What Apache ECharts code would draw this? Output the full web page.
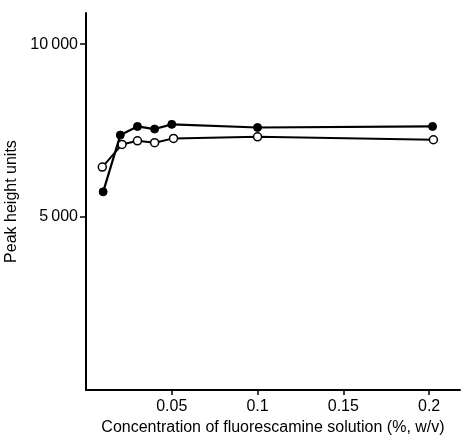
<!DOCTYPE html>
<html>
<head>
<meta charset="utf-8">
<script src="https://cdn.jsdelivr.net/npm/echarts@6/dist/echarts.min.js"></script>
<style>html,body{margin:0;padding:0;background:#fff}#c{width:462px;height:435px}</style>
</head>
<body>
<div id="c"></div>
<script>
var concFilled = [0.01, 0.02, 0.03, 0.04, 0.05, 0.1, 0.202];
var peakFilled = [5730, 7370, 7620, 7545, 7680, 7590, 7620];
var concOpen = [0.0095, 0.021, 0.03, 0.04, 0.051, 0.1, 0.2025];
var peakOpen = [6445, 7100, 7205, 7150, 7275, 7320, 7235];
var xTicks = [0.05, 0.1, 0.15, 0.2];
var yTicks = [5000, 10000];
var yTickLabels = ['5\u2009000', '10\u2009000'];

function pairs(xs, ys){ return xs.map(function(x,i){return [x, ys[i]];}); }
var font = 'Liberation Sans, Arial, sans-serif';
var fs = 16;
var chart = echarts.init(document.getElementById('c'));
chart.setOption({
  animation: false,
  backgroundColor: '#fff',
  grid: {left: 86, top: 13, right: 2, bottom: 45, containLabel: false, outerBoundsMode: 'none'},
  xAxis: {
    type: 'value', min: 0, max: 0.218,
    name: 'Concentration of fluorescamine solution (%, w/v)',
    nameLocation: 'middle', nameGap: 28,
    nameTextStyle: {color: '#000', fontFamily: font, fontSize: fs},
    axisLine: {lineStyle: {color: '#000', width: 2}},
    axisTick: {show: true, length: 5, customValues: xTicks, lineStyle: {color: '#000', width: 1.5}},
    axisLabel: {color: '#000', fontFamily: font, fontSize: fs, margin: 9, customValues: xTicks,
      formatter: function(v){ return String(+v.toFixed(2)); }},
    splitLine: {show: false}
  },
  yAxis: {
    type: 'value', min: 0, max: 10900,
    name: 'Peak height units', nameLocation: 'middle', nameGap: 50, nameRotate: 90,
    nameTextStyle: {color: '#000', fontFamily: font, fontSize: fs},
    axisLine: {show: true, lineStyle: {color: '#000', width: 2}},
    axisTick: {show: true, length: 6, customValues: yTicks, lineStyle: {color: '#000', width: 1.5}},
    axisLabel: {color: '#000', fontFamily: font, fontSize: fs, margin: 8, customValues: yTicks,
      formatter: function(v){ return yTickLabels[yTicks.indexOf(v)] || ''; }},
    splitLine: {show: false}
  },
  series: [
    {type: 'line', data: pairs(concOpen, peakOpen), symbol: 'circle', symbolSize: 8,
     lineStyle: {color: '#000', width: 2}, itemStyle: {color: '#fff', borderColor: '#000', borderWidth: 1.5}, z: 3},
    {type: 'line', data: pairs(concFilled, peakFilled), symbol: 'circle', symbolSize: 8,
     lineStyle: {color: '#000', width: 2.2}, itemStyle: {color: '#000', borderColor: '#000', borderWidth: 1}, z: 4}
  ]
});
</script>
</body>
</html>
